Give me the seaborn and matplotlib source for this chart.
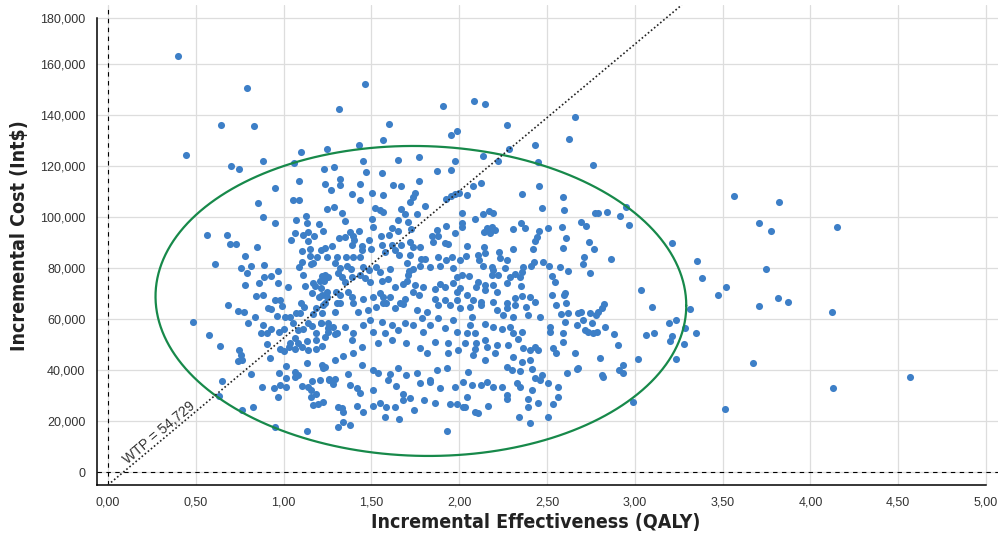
import matplotlib
matplotlib.use("Agg")
import matplotlib.pyplot as plt
import numpy as np
import pandas as pd
import seaborn as sns

# (QALY, cost in thousands), grouped by region
pts_upper_left = [
    (0.40, 163.4), (0.444, 124.5), (0.79, 150.8), (0.642, 136.3), (0.831, 135.7), (0.70, 120.1),
    (0.744, 118.8), (0.881, 122.0), (1.317, 142.5), (1.097, 125.6), (1.059, 121.3), (1.249, 126.8),
    (0.951, 111.4), (0.856, 105.7), (0.882, 100.0), (0.949, 97.9), (0.562, 93.2), (0.676, 92.9),
    (0.695, 89.4), (0.73, 89.4), (0.847, 88.5), (0.778, 84.7), (0.611, 81.8), (1.086, 114.2),
    (1.054, 106.9), (1.088, 106.9), (1.228, 118.8), (1.287, 119.7), (1.234, 113.0), (1.268, 110.8),
    (1.25, 103.4), (1.289, 103.9), (1.128, 100.6), (1.071, 98.9), (1.132, 97.9), (1.203, 97.5),
    (1.226, 94.7), (1.04, 91.1), (1.067, 94.0), (1.112, 92.9), (1.14, 94.1), (1.173, 92.8),
    (1.14, 90.6), (1.15, 87.6), (1.107, 86.8), (1.211, 87.2), (1.234, 88.0), (1.274, 88.6),
    (1.103, 82.5), (1.15, 84.7), (1.192, 84.3), (1.245, 84.4), (1.158, 81.8), (1.317, 91.8),
    (1.302, 84.5),
]
pts_lower_left = [
    (0.756, 80.1), (0.813, 80.9), (0.79, 78.0), (0.888, 81.4), (0.782, 73.6), (0.858, 74.1),
    (0.888, 76.5), (0.93, 77.0), (0.97, 79.1), (1.025, 72.8), (0.843, 69.1), (0.884, 69.6),
    (0.681, 65.5), (0.739, 63.3), (0.773, 62.9), (0.799, 58.4), (0.835, 60.8), (0.486, 59.1),
    (0.576, 53.7), (0.638, 49.5), (0.744, 48.0), (0.74, 43.6), (0.763, 44.0), (0.759, 45.9),
    (0.813, 38.5), (0.649, 35.9), (0.634, 29.9), (0.763, 24.4), (0.827, 25.7), (0.879, 33.6),
    (0.921, 44.7), (0.904, 50.2), (0.873, 54.7), (0.884, 57.8), (0.904, 54.5), (0.93, 56.1),
    (0.911, 64.4), (0.93, 63.9), (0.952, 67.7), (0.979, 67.6), (0.991, 65.2), (0.961, 61.3),
    (1.006, 60.8), (0.972, 55.0), (1.002, 56.1), (0.979, 48.2), (1.002, 47.7), (1.029, 49.0),
    (1.036, 50.8), (1.014, 41.7), (0.976, 39.1), (1.014, 36.9), (0.945, 33.2), (0.979, 34.2),
    (1.014, 33.6), (0.968, 29.6), (0.949, 17.9), (1.135, 16.3),
]
pts_left_core = [
    (1.063, 48.2), (1.08, 50.6), (1.067, 52.7), (1.082, 55.8), (1.112, 56.1), (1.055, 58.4),
    (1.093, 62.4), (1.071, 62.4), (1.116, 64.9), (1.1, 66.5), (1.122, 73.1), (1.112, 77.5),
    (1.089, 80.6), (1.169, 82.0), (1.169, 74.1), (1.162, 70.2), (1.177, 73.1), (1.207, 75.1),
    (1.219, 77.0), (1.23, 74.9), (1.203, 68.6), (1.219, 69.6), (1.245, 68.9), (1.185, 64.5),
    (1.169, 62.1), (1.219, 62.4), (1.14, 58.4), (1.162, 57.4), (1.187, 54.7), (1.215, 58.4),
    (1.253, 58.7), (1.283, 57.1), (1.253, 55.1), (1.234, 52.9), (1.291, 54.2), (1.131, 51.6),
    (1.103, 49.3), (1.187, 51.9), (1.221, 49.5), (1.187, 48.2), (1.142, 48.0), (1.219, 42.0),
    (1.234, 41.2), (1.131, 43.0), (1.067, 39.5), (1.08, 38.2), (1.067, 37.5), (1.103, 33.8),
    (1.14, 33.6), (1.159, 32.3), (1.187, 30.7), (1.159, 29.6), (1.169, 26.4), (1.197, 26.8),
    (1.225, 27.7), (1.162, 35.9), (1.207, 36.2), (1.26, 36.5), (1.291, 36.7), (1.282, 34.6),
    (1.312, 25.7), (1.312, 17.9), (1.291, 44.0), (0.966, 74.1), (1.036, 60.8),
]
pts_top = [
    (1.462, 152.5), (2.084, 145.7), (2.145, 144.4), (1.909, 143.5), (1.598, 136.7), (1.564, 130.4),
    (1.431, 128.5), (1.955, 132.4), (1.987, 133.8), (2.272, 136.3), (2.657, 139.5), (2.627, 130.8),
    (2.433, 128.5), (2.283, 126.8), (2.137, 124.0), (1.769, 123.6), (1.871, 118.0), (2.839, 102.0),
    (2.95, 104.2), (2.917, 100.5), (2.862, 83.5), (2.969, 97.1),
]
pts_mid_upper = [
    (1.454, 122.1), (1.653, 122.5), (1.976, 122.1), (1.951, 118.5), (1.467, 117.6), (1.558, 117.3),
    (1.324, 114.9), (1.324, 112.5), (1.435, 113.1), (1.621, 112.7), (1.667, 112.3), (1.773, 114.4),
    (1.39, 109.0), (1.505, 109.4), (1.568, 108.7), (1.435, 106.8), (1.748, 109.4), (1.735, 107.8),
    (1.72, 106.1), (1.521, 103.5), (1.549, 102.9), (1.568, 102.2), (1.668, 103.3), (1.805, 104.4),
    (1.925, 107.1), (1.951, 108.4), (1.976, 109.0), (2.0, 109.4), (1.33, 101.6), (1.693, 101.3),
    (1.71, 98.3), (1.761, 101.3), (1.503, 99.2), (1.35, 98.7), (1.653, 98.9), (1.378, 94.4),
    (1.431, 94.7), (1.507, 96.3), (1.615, 95.9), (1.653, 94.7), (1.724, 95.3), (1.844, 92.7),
    (1.872, 95.0), (1.881, 92.7), (1.925, 96.6), (1.976, 94.0), (2.014, 96.3), (1.35, 92.4),
    (1.397, 92.7), (1.402, 91.1), (1.488, 91.1), (1.555, 92.7), (1.602, 93.1), (1.563, 89.1),
    (1.615, 89.1), (1.668, 89.1), (1.72, 90.4), (1.735, 88.2), (1.777, 88.2), (1.853, 90.4),
    (1.919, 89.8), (1.938, 89.5), (1.387, 89.1), (1.444, 88.7), (1.444, 87.2), (1.5, 87.5),
    (1.577, 86.5), (1.634, 87.2), (1.659, 85.2), (1.72, 85.2), (1.782, 83.5), (1.805, 83.5),
    (1.881, 84.3), (1.957, 84.3), (2.005, 83.3), (1.355, 84.5), (1.397, 84.5), (1.435, 84.3),
]
pts_mid_center = [
    (1.293, 82.0), (1.321, 80.0), (1.359, 80.9), (1.382, 79.6), (1.454, 80.6), (1.488, 79.3),
    (1.526, 80.4), (1.549, 78.7), (1.606, 79.6), (1.704, 82.0), (1.715, 79.1), (1.71, 77.4),
    (1.735, 79.6), (1.777, 80.9), (1.834, 80.4), (1.891, 80.9), (1.925, 83.3), (1.965, 80.0),
    (1.236, 77.4), (1.255, 76.5), (1.312, 78.0), (1.33, 76.5), (1.35, 74.7), (1.387, 76.7),
    (1.435, 77.4), (1.463, 76.1), (1.492, 74.7), (1.558, 75.1), (1.597, 75.7), (1.549, 70.2),
    (1.511, 68.6), (1.568, 68.6), (1.606, 68.9), (1.634, 72.8), (1.682, 73.8), (1.704, 75.1),
    (1.748, 73.5), (1.795, 72.8), (1.739, 70.8), (1.773, 69.5), (1.862, 71.8), (1.891, 73.8),
    (1.919, 72.8), (1.965, 74.4), (1.988, 76.7), (1.988, 70.8), (2.005, 72.2), (1.216, 72.2),
    (1.245, 70.8), (1.298, 70.8), (1.321, 69.5), (1.369, 70.8), (1.387, 68.9), (1.454, 67.8),
    (1.862, 67.8), (1.919, 67.6), (1.986, 67.6), (1.236, 66.3), (1.302, 66.5), (1.663, 66.3),
    (1.691, 67.8), (1.568, 66.3),
]
pts_mid_lower = [
    (1.226, 65.6), (1.293, 63.0), (1.321, 66.3), (1.397, 66.5), (1.425, 63.0), (1.482, 63.6),
    (1.529, 64.9), (1.586, 66.5), (1.634, 64.3), (1.682, 66.0), (1.758, 63.6), (1.815, 63.0),
    (1.881, 65.6), (1.948, 65.6), (2.005, 64.3), (1.216, 58.4), (1.254, 56.5), (1.302, 54.5),
    (1.35, 57.1), (1.397, 54.5), (1.387, 51.9), (1.454, 57.8), (1.492, 59.7), (1.511, 55.1),
    (1.558, 59.1), (1.615, 57.8), (1.653, 55.8), (1.577, 54.5), (1.539, 50.6), (1.615, 51.9),
    (1.7, 50.6), (1.691, 58.4), (1.739, 57.8), (1.786, 60.4), (1.795, 55.1), (1.834, 57.8),
    (1.881, 60.4), (1.919, 56.5), (1.965, 59.7), (1.986, 55.1), (1.777, 48.6), (1.815, 46.7),
    (1.862, 51.2), (1.938, 50.6), (1.938, 46.7), (1.993, 48.0), (1.444, 49.3), (1.397, 46.7),
    (1.34, 45.6), (1.444, 42.1), (1.226, 40.8), (1.26, 36.2), (1.369, 38.5), (1.507, 40.1),
    (1.539, 39.1), (1.606, 38.5), (1.653, 40.8), (1.7, 38.2), (1.758, 38.8), (1.834, 36.2),
    (1.872, 40.1), (1.929, 40.8), (1.378, 34.2), (1.416, 32.9), (1.435, 31.0), (1.511, 32.3),
    (1.597, 36.2), (1.642, 33.8), (1.682, 30.7), (1.682, 28.4), (1.72, 29.0), (1.777, 34.9),
    (1.834, 35.5), (1.891, 32.9), (1.976, 33.6), (1.33, 25.1), (1.34, 23.8), (1.416, 26.0),
    (1.454, 23.8), (1.511, 26.0), (1.549, 27.1), (1.586, 25.5), (1.634, 25.5), (1.577, 21.8),
    (1.657, 20.8), (1.742, 24.4), (1.798, 28.4), (1.862, 27.3), (1.948, 26.8), (1.986, 26.8),
    (2.022, 25.7), (1.34, 19.8), (1.378, 18.5), (1.932, 16.3),
]
pts_right_upper = [
    (2.223, 122.1), (2.451, 121.8), (2.764, 120.6), (2.077, 112.3), (2.127, 113.3), (2.046, 108.7),
    (2.356, 109.1), (2.456, 112.3), (2.589, 107.8), (2.47, 103.5), (2.597, 102.9), (2.773, 101.6),
    (2.792, 101.6), (2.014, 101.8), (2.134, 101.3), (2.171, 102.6), (2.19, 101.8), (2.014, 97.9),
    (2.09, 99.2), (2.352, 97.9), (2.375, 95.7), (2.156, 95.7), (2.185, 96.3), (2.204, 95.0),
    (2.139, 94.4), (2.173, 93.7), (2.304, 95.3), (2.456, 94.7), (2.507, 95.7), (2.583, 96.3),
    (2.691, 98.3), (2.721, 96.6), (2.608, 91.8), (2.441, 92.4), (2.431, 90.8), (2.741, 90.4),
    (2.046, 88.7), (2.139, 88.2), (2.308, 87.5), (2.422, 87.5), (2.593, 87.8), (2.768, 87.5),
    (2.039, 84.8), (2.109, 85.2), (2.148, 85.9), (2.229, 86.5), (2.115, 83.3), (2.232, 83.9),
    (2.274, 83.3), (2.426, 82.6), (2.479, 82.6), (2.71, 84.3),
]
pts_right_center = [
    (2.134, 80.9), (2.185, 80.4), (2.261, 80.0), (2.361, 80.6), (2.411, 80.9), (2.512, 80.9),
    (2.573, 80.6), (2.62, 79.1), (2.704, 81.7), (2.743, 78.0), (2.014, 77.4), (2.056, 77.0),
    (2.194, 79.3), (2.185, 77.4), (2.223, 77.4), (2.289, 76.7), (2.318, 77.8), (2.356, 78.7),
    (2.346, 76.7), (2.526, 77.0), (2.545, 74.7), (2.109, 74.7), (2.148, 73.5), (2.194, 73.5),
    (2.27, 74.4), (2.352, 73.1), (2.098, 72.8), (2.148, 71.5), (2.213, 70.8), (2.356, 69.1),
    (2.403, 68.6), (2.526, 69.5), (2.597, 69.5), (2.042, 69.5), (2.08, 67.6), (2.127, 66.9),
    (2.194, 66.9), (2.27, 66.5), (2.318, 68.2), (2.554, 65.6),
]
pts_right_lower = [
    (2.062, 64.9), (2.127, 65.6), (2.213, 63.6), (2.27, 64.3), (2.318, 65.6), (2.383, 64.9),
    (2.43, 66.9), (2.459, 61.0), (2.393, 61.7), (2.308, 61.0), (2.25, 61.7), (2.071, 61.0),
    (2.148, 58.2), (2.194, 57.1), (2.242, 56.1), (2.289, 57.1), (2.062, 57.8), (2.042, 54.5),
    (2.09, 54.5), (2.033, 50.6), (2.098, 50.6), (2.148, 51.9), (2.156, 49.3), (2.213, 49.9),
    (2.204, 46.9), (2.09, 48.2), (2.08, 46.0), (2.148, 44.0), (2.308, 54.5), (2.335, 52.2),
    (2.356, 55.1), (2.279, 49.9), (2.364, 48.6), (2.403, 48.0), (2.431, 49.3), (2.45, 48.0),
    (2.308, 45.3), (2.356, 43.4), (2.403, 44.0), (2.27, 41.4), (2.299, 40.1), (2.346, 39.8),
    (2.412, 40.4), (2.43, 36.9), (2.469, 38.2), (2.459, 36.2), (2.507, 34.9), (2.05, 39.5),
    (2.022, 35.5), (2.071, 34.2), (2.127, 34.2), (2.156, 35.5), (2.194, 33.6), (2.242, 33.3),
    (2.327, 34.9), (2.346, 33.3), (2.412, 32.3), (2.042, 29.6), (2.27, 30.3), (2.27, 28.6),
    (2.393, 28.6), (2.033, 25.7), (2.09, 23.8), (2.109, 23.4), (2.165, 26.0), (2.393, 25.7),
    (2.449, 27.3), (2.343, 21.6), (2.403, 19.2), (2.507, 21.6), (2.534, 26.8), (2.563, 29.6),
    (2.563, 33.3), (2.578, 62.1), (2.621, 62.4), (2.602, 59.1), (2.678, 62.4), (2.669, 57.8),
    (2.517, 57.1), (2.517, 55.1), (2.593, 54.5), (2.716, 55.8), (2.735, 55.1), (2.754, 58.4),
    (2.763, 54.5), (2.783, 55.1), (2.745, 62.4), (2.792, 63.0), (2.534, 48.6), (2.554, 46.7),
    (2.593, 51.2), (2.66, 46.7), (2.612, 39.1), (2.669, 40.4), (2.802, 44.7), (2.811, 38.2),
]
pts_far_right = [
    (3.037, 71.5), (3.096, 64.9), (3.064, 54.0), (3.109, 54.7), (3.02, 44.5), (2.988, 27.7),
    (2.93, 42.1), (2.911, 40.1), (2.934, 38.8), (2.906, 49.9), (2.882, 54.2), (2.832, 57.1),
    (2.825, 66.0), (2.811, 64.3), (2.779, 61.7), (2.82, 37.5), (2.678, 40.8), (2.705, 59.8),
    (2.691, 63.0), (2.608, 66.3), (2.602, 70.2), (3.563, 108.5), (3.819, 105.9), (3.707, 97.8),
    (3.773, 94.5), (4.151, 96.1), (3.213, 90.0), (3.354, 82.7), (3.747, 79.6), (3.385, 76.2),
    (3.521, 72.8), (3.472, 69.4), (3.705, 65.3), (3.817, 68.4), (3.874, 66.8), (4.121, 62.7),
    (3.316, 64.2), (3.234, 59.7), (3.194, 58.7), (3.283, 56.5), (3.348, 54.7), (3.213, 53.5),
    (3.202, 51.4), (3.282, 50.4), (3.234, 44.3), (3.671, 42.9), (4.567, 37.5), (4.127, 33.2),
    (3.514, 24.9),
]

# WTP threshold line (two end points as read) and its label
wtp_label = "WTP = 54,729"
wtp_x = [0.0, 3.267]
wtp_y = [-5000, 183300]

# 95% ellipse: centre and spread (QALY, cost)
ell_center = (1.782, 67200)
ell_sx, ell_sy, ell_sxy = 1.511, 60800, -2680

x_ticks = [0, 0.5, 1.0, 1.5, 2.0, 2.5, 3.0, 3.5, 4.0, 4.5, 5.0]
x_ticklabels = ["0,00", "0,50", "1,00", "1,50", "2,00", "2,50", "3,00", "3,50", "4,00", "4,50", "5,00"]
y_ticks = [0, 20000, 40000, 60000, 80000, 100000, 120000, 140000, 160000, 178200]
y_ticklabels = ["0", "20,000", "40,000", "60,000", "80,000", "100,000", "120,000", "140,000", "160,000", "180,000"]

all_pts = (pts_upper_left + pts_lower_left + pts_left_core + pts_top + pts_mid_upper + pts_mid_center
           + pts_mid_lower + pts_right_upper + pts_right_center + pts_right_lower + pts_far_right)
df = pd.DataFrame(all_pts, columns=["qaly", "cost_k"])
df["cost"] = df["cost_k"] * 1000

sns.set_style("whitegrid")
plt.rcParams["font.family"] = ["Liberation Sans", "DejaVu Sans"]

fig = plt.figure(figsize=(9.98, 5.38), dpi=100)
ax = fig.add_axes([0.0967, 0.0985, 0.9033, 0.8922])

sns.scatterplot(data=df, x="qaly", y="cost", color="#3d7fc7", s=26, linewidth=0, ax=ax, zorder=3)

# ellipse from centre + covariance-like spread
t = np.linspace(0, 2 * np.pi, 400)
l21 = ell_sxy / ell_sx
l22 = np.sqrt(ell_sy ** 2 - l21 ** 2)
ex = ell_center[0] + ell_sx * np.cos(t)
ey = ell_center[1] + l21 * np.cos(t) + l22 * np.sin(t)
ax.plot(ex, ey, color="#17894a", lw=1.6, zorder=4)

ax.plot(wtp_x, wtp_y, color="#222222", lw=1.2, ls=(0, (1, 1.4)), zorder=5)
ax.text(0.29, 15600, wtp_label, rotation=40, ha="center", va="center",
        fontsize=10, color="#333333", zorder=6)

ax.axvline(0, color="black", lw=0.8, ls=(0, (4, 4)), zorder=2)
ax.axhline(0, color="black", lw=0.8, ls=(0, (4, 4)), zorder=2)

ax.set_xlim(-0.065, 5.068)
ax.set_ylim(-5000, 183300)
ax.set_xticks(x_ticks)
ax.set_xticklabels(x_ticklabels)
ax.set_yticks(y_ticks)
ax.set_yticklabels(y_ticklabels)
ax.grid(True, color="#dddddd", linewidth=0.9)
ax.set_axisbelow(True)

for side in ["top", "right"]:
    ax.spines[side].set_visible(False)
for side in ["left", "bottom"]:
    ax.spines[side].set_color("black")
    ax.spines[side].set_linewidth(1.1)
ax.spines["left"].set_bounds(-5000, 178200)
ax.spines["bottom"].set_bounds(-0.065, 5.0)

ax.tick_params(axis="both", direction="out", length=5, width=1, color="black",
               labelsize=9, labelcolor="#333333", pad=3)

# condensed bold for the axis titles
lab_font = dict(family=["DejaVu Sans"], stretch="condensed", weight="bold", size=14, color="#222222")
ax.set_xlabel("Incremental Effectiveness (QALY)", **lab_font)
ax.set_ylabel("Incremental Cost (Int$)", **lab_font)
ax.xaxis.set_label_coords(0.487, -0.079)
ax.xaxis.label.set_verticalalignment("center")
ax.yaxis.set_label_coords(-0.085, 0.519)
ax.yaxis.label.set_verticalalignment("center")

fig.savefig("out.png", dpi=100)
